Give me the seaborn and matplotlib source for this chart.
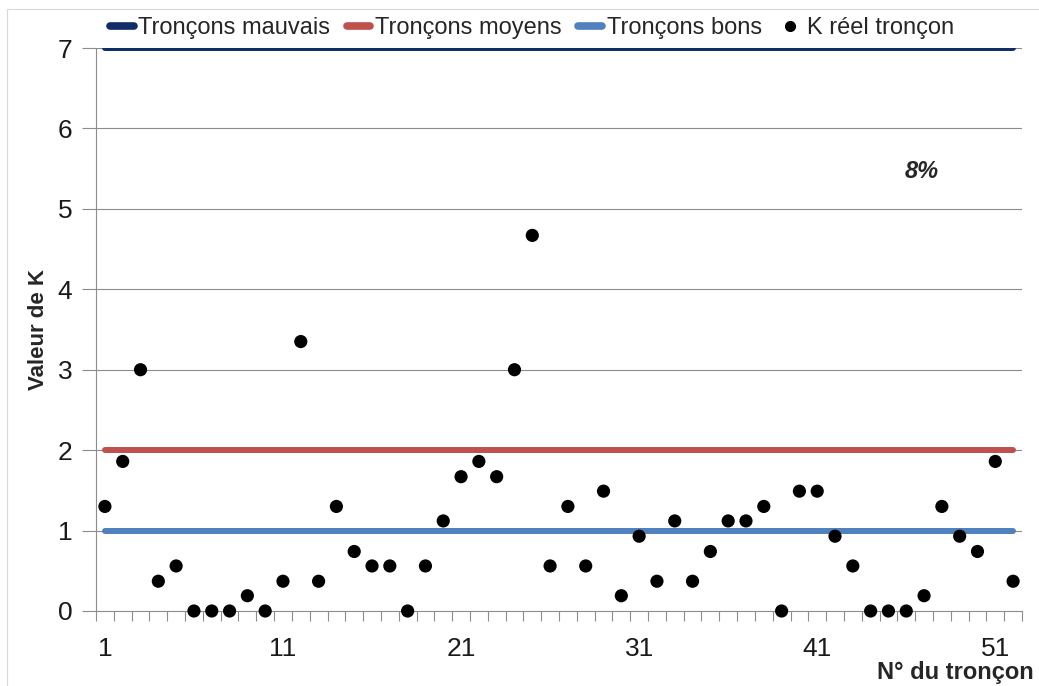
import matplotlib
matplotlib.use("Agg")
import matplotlib.pyplot as plt
from matplotlib.lines import Line2D
from matplotlib.patches import Rectangle
from matplotlib.ticker import FixedLocator
import seaborn as sns
import pandas as pd

# Section numbers and measured K value for each section
troncons = list(range(1, 53))
k_reel = [1.30, 1.86, 3.00, 0.37, 0.56, 0.00, 0.00, 0.00, 0.19, 0.00,
          0.37, 3.35, 0.37, 1.30, 0.74, 0.56, 0.56, 0.00, 0.56, 1.12,
          1.67, 1.86, 1.67, 3.00, 4.67, 0.56, 1.30, 0.56, 1.49, 0.19,
          0.93, 0.37, 1.12, 0.37, 0.74, 1.12, 1.12, 1.30, 0.00, 1.49,
          1.49, 0.93, 0.56, 0.00, 0.00, 0.00, 0.19, 1.30, 0.93, 0.74,
          1.86, 0.37]

# Class thresholds
seuils = {"Tronçons mauvais": 7, "Tronçons moyens": 2, "Tronçons bons": 1}
couleurs = {"Tronçons mauvais": "#102d66", "Tronçons moyens": "#c0504d",
            "Tronçons bons": "#4f81bd"}
xtick_labels = [1, 11, 21, 31, 41, 51]
yticks = [0, 1, 2, 3, 4, 5, 6, 7]
annotation = "8%"

sns.set_theme(style="white")
fam = ["Liberation Sans", "DejaVu Sans"]
plt.rcParams["font.family"] = fam

W, H = 1039, 686
fig = plt.figure(figsize=(W / 100, H / 100), dpi=100)
ax = fig.add_axes([96 / W, 1 - 611 / H, (1022 - 96) / W, (611 - 48) / H])

# faint outer frame of the chart area
fig.patches.append(Rectangle((7 / W, -0.1), 1.2, 1 - 9 / H + 0.1,
                             transform=fig.transFigure, fill=False,
                             edgecolor="#d9d9d9", linewidth=0.8, zorder=0))

for y in yticks[1:]:
    ax.axhline(y, color="#8c8c8c", linewidth=0.8, zorder=1)

rows = []
for nom, val in seuils.items():
    for t in troncons:
        rows.append({"troncon": t, "K": val, "classe": nom})
df_seuils = pd.DataFrame(rows)
sns.lineplot(data=df_seuils, x="troncon", y="K", hue="classe",
             palette=couleurs, linewidth=4.3, ax=ax, legend=False,
             solid_capstyle="round", zorder=3)

df_k = pd.DataFrame({"troncon": troncons, "K": k_reel})
sns.scatterplot(data=df_k, x="troncon", y="K", color="black", s=90,
                edgecolor="none", ax=ax, zorder=4, clip_on=False)

ax.set_xlim(0.5, 52.5)
ax.set_ylim(0, 7)
ax.set_yticks(yticks)
ax.set_yticklabels([str(v) for v in yticks], fontsize=19)
ax.set_xticks(xtick_labels)
ax.set_xticklabels([str(v) for v in xtick_labels], fontsize=19)
ax.xaxis.set_minor_locator(FixedLocator([i + 0.5 for i in range(0, 53)]))
ax.tick_params(axis="x", which="major", length=0, pad=19)
ax.tick_params(axis="x", which="minor", length=7, width=0.8, color="#8c8c8c",
               direction="out", bottom=True)
ax.tick_params(axis="y", which="major", length=10, width=0.8, color="#8c8c8c",
               direction="out", left=True, pad=7)
for lab in ax.get_yticklabels() + ax.get_xticklabels():
    lab.set_color("#1a1a1a")

for side in ["top", "right"]:
    ax.spines[side].set_visible(False)
for side in ["left", "bottom"]:
    ax.spines[side].set_color("#8c8c8c")
    ax.spines[side].set_linewidth(0.8)

ax.set_xlabel("")
ax.set_ylabel("Valeur de K", fontsize=16, fontweight="bold", labelpad=6)
fig.text(1034 / W, 1 - 672 / H, "N° du tronçon", ha="right", va="center",
         fontsize=17, fontweight="bold")
fig.text(922 / W, 1 - 172 / H, annotation, ha="center", va="center",
         fontsize=17, fontweight="bold", style="italic")

handles = [Line2D([0], [0], color=couleurs[n], linewidth=5.5,
                  solid_capstyle="round") for n in seuils]
handles.append(Line2D([0], [0], color="black", marker="o", linestyle="none",
                      markersize=7))
labels = list(seuils) + ["K réel tronçon"]
fig.legend(handles, labels, loc="center left",
           bbox_to_anchor=(110 / W, 1 - 28 / H),
           ncol=4, frameon=False, fontsize=17, handlelength=1.0,
           handletextpad=0.2, columnspacing=0.7, borderaxespad=0, borderpad=0)

fig.savefig("out.png", dpi=100)
